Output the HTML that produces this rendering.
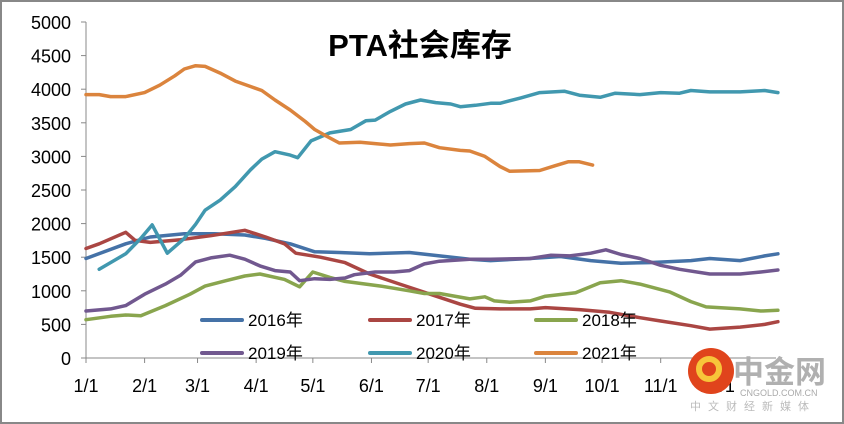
<!DOCTYPE html>
<html><head><meta charset="utf-8"><style>
body{margin:0;background:#fff}
svg{display:block;font-family:"Liberation Sans","Noto Sans CJK SC",sans-serif}
</style></head><body>
<svg id="c" width="844" height="424">
<rect x="1" y="1" width="842" height="422" fill="#fff" stroke="#888" stroke-width="2"/>
<text x="420" y="56" text-anchor="middle" font-size="31" font-weight="bold" fill="#000">PTA社会库存</text>
<g id="axes"></g><g id="series"></g>
<g font-size="17" fill="#000">
<g><line x1="202" y1="320" x2="242" y2="320" stroke="#4572a7" stroke-width="4" stroke-linecap="round"/><text x="248" y="326">2016年</text></g>
<g><line x1="370" y1="320" x2="410" y2="320" stroke="#aa4643" stroke-width="4" stroke-linecap="round"/><text x="416" y="326">2017年</text></g>
<g><line x1="536" y1="320" x2="576" y2="320" stroke="#89a54e" stroke-width="4" stroke-linecap="round"/><text x="582" y="326">2018年</text></g>
<g><line x1="202" y1="353" x2="242" y2="353" stroke="#71588f" stroke-width="4" stroke-linecap="round"/><text x="248" y="359">2019年</text></g>
<g><line x1="370" y1="353" x2="410" y2="353" stroke="#4198af" stroke-width="4" stroke-linecap="round"/><text x="416" y="359">2020年</text></g>
<g><line x1="536" y1="353" x2="576" y2="353" stroke="#db843d" stroke-width="4" stroke-linecap="round"/><text x="582" y="359">2021年</text></g>
</g>
<g>
<circle cx="711" cy="371" r="23" fill="#e0441c"/>
<circle cx="709" cy="369" r="10" fill="none" stroke="#f7c53a" stroke-width="6"/>
<text x="733" y="383" font-size="31" font-weight="bold" fill="#b0b0b0">中金网</text>
<text x="740" y="396" font-size="9" fill="#aaa">CNGOLD.COM.CN</text>
<text x="690" y="410" font-size="11" fill="#bbb" letter-spacing="7">中文财经新媒体</text>
</g>
</svg>
<script>
const yTicks=[0,500,1000,1500,2000,2500,3000,3500,4000,4500,5000];
const monthLabels=["1/1","2/1","3/1","4/1","5/1","6/1","7/1","8/1","9/1","10/1","11/1","12/1"];
const monthStarts=[0,31,59,90,120,151,181,212,243,273,304,334];
const d2016=[0,21,34,52,68,84,95,108,121,134,150,171,187,203,214,235,251,267,283,298,320,330,346,359,366];
const v2016=[1480,1700,1800,1850,1850,1830,1780,1700,1580,1570,1550,1570,1520,1470,1450,1480,1510,1450,1410,1420,1450,1480,1450,1520,1550];
const d2017=[0,7,21,26,34,50,66,84,95,105,111,124,137,150,166,182,198,206,219,235,243,261,277,293,304,320,330,346,359,366];
const v2017=[1630,1700,1870,1750,1720,1760,1820,1900,1800,1700,1560,1500,1420,1250,1100,950,800,740,730,730,750,720,680,600,550,480,430,460,500,540];
const d2018=[0,13,21,29,42,55,63,74,84,92,105,113,120,129,137,156,171,179,187,203,211,216,224,235,243,259,272,283,293,309,320,328,346,357,366];
const v2018=[570,620,640,630,780,950,1070,1150,1220,1250,1170,1060,1280,1200,1140,1070,1000,960,960,880,910,850,830,850,920,970,1120,1150,1100,980,840,760,730,700,710];
const d2019=[0,13,21,31,42,50,58,66,76,84,92,100,108,113,121,129,137,142,153,163,171,179,187,203,214,235,246,256,267,275,283,293,304,314,330,346,357,366];
const v2019=[700,730,780,950,1100,1230,1430,1490,1530,1470,1370,1300,1280,1150,1180,1170,1190,1240,1280,1280,1300,1400,1440,1470,1470,1480,1530,1520,1560,1610,1540,1480,1380,1320,1250,1250,1280,1310];
const d2020=[7,21,29,35,43,52,58,63,71,79,87,93,100,108,112,119,129,140,148,153,161,169,177,185,193,198,206,214,219,230,240,253,261,272,280,293,304,314,320,330,346,359,366];
const v2020=[1320,1550,1780,1980,1560,1780,1990,2200,2350,2550,2800,2960,3070,3020,2980,3230,3350,3400,3530,3540,3670,3780,3840,3800,3780,3740,3760,3790,3790,3870,3950,3970,3910,3880,3940,3920,3950,3940,3980,3960,3960,3980,3950];
const d2021=[0,7,13,21,31,39,47,52,58,63,71,79,87,93,100,108,116,121,126,134,145,153,161,171,179,187,198,203,211,219,224,240,248,255,261,268];
const v2021=[3920,3920,3890,3890,3950,4060,4200,4300,4350,4340,4240,4120,4040,3980,3840,3690,3520,3400,3320,3200,3210,3190,3170,3190,3200,3130,3090,3080,3000,2850,2780,2790,2860,2920,2920,2870];
const X0=86,XW=690,Y0=358,YH=336;
const xs=d=>X0+d*XW/365, ys=v=>Y0-v/5000*YH;
const NS="http://www.w3.org/2000/svg";
const ax=document.getElementById('axes'), sg=document.getElementById('series');
function mk(t,a,p){const e=document.createElementNS(NS,t);for(const k in a)e.setAttribute(k,a[k]);p.appendChild(e);return e;}
yTicks.forEach(v=>{
 const t=mk('text',{x:71,y:ys(v)+7,'text-anchor':'end','font-size':'18',fill:'#000'},ax);t.textContent=v;
 
 
 mk('line',{x1:81,x2:86,y1:ys(v),y2:ys(v),stroke:'#888'},ax);
});
const ya=mk('line',{x1:86,x2:86,y1:ys(5000),y2:Y0,stroke:'#888'},ax);


const xa=mk('line',{x1:86,x2:X0+XW,y1:Y0,y2:Y0,stroke:'#888'},ax);


monthLabels.forEach((m,i)=>{
 const x=xs(monthStarts[i]);
 mk('line',{x1:x,x2:x,y1:Y0,y2:Y0+5,stroke:'#888'},ax);
 const t=mk('text',{x:x,y:392,'text-anchor':'middle','font-size':'18',fill:'#000'},ax);t.textContent=m;
 
 
});
[[d2016,v2016,'#4572a7','2016'],[d2017,v2017,'#aa4643','2017'],[d2018,v2018,'#89a54e','2018'],[d2019,v2019,'#71588f','2019'],[d2020,v2020,'#4198af','2020'],[d2021,v2021,'#db843d','2021']].forEach(([d,v,c,n])=>{
 const pts=d.map((x,i)=>xs(x).toFixed(1)+','+ys(v[i]).toFixed(1)).join(' ');
 const p=mk('polyline',{points:pts,fill:'none',stroke:c,'stroke-width':'3.5','stroke-linejoin':'round','stroke-linecap':'round'},sg);
 
 
});
</script>
</body></html>
